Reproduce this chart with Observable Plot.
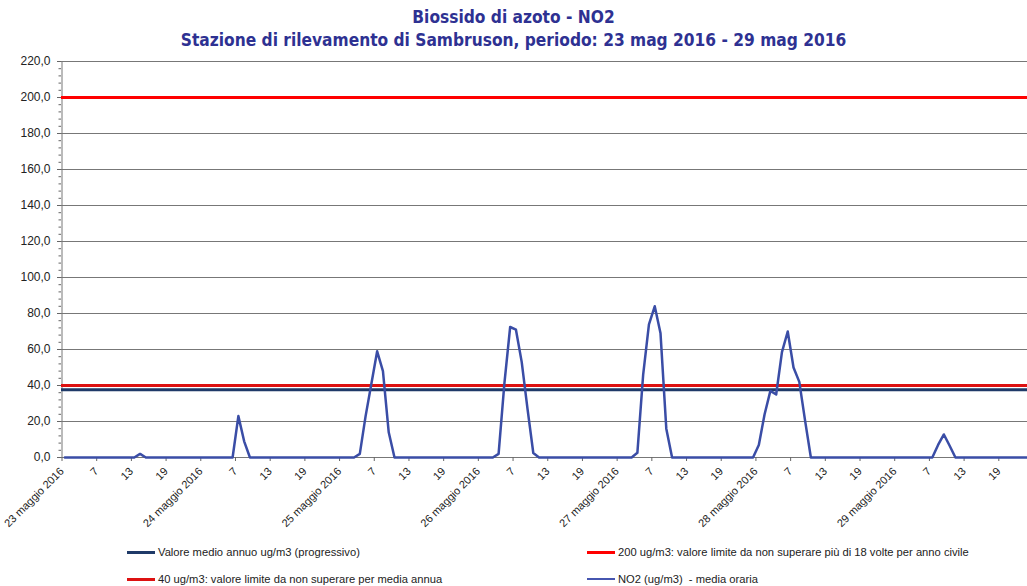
<!DOCTYPE html>
<html>
<head>
<meta charset="utf-8">
<script src="https://cdn.jsdelivr.net/npm/d3@7"></script>
<script src="https://cdn.jsdelivr.net/npm/@observablehq/plot@0.6"></script>
<style>
  html, body { margin: 0; padding: 0; background: #fff; }
  #wrap { position: relative; width: 1027px; height: 586px; overflow: hidden; font-family: "Liberation Sans", Arial, sans-serif; }
  .title { position: absolute; left: 0; width: 1027px; text-align: center; color: #2e3192; font-family: "DejaVu Sans Condensed", "DejaVu Sans", sans-serif; font-weight: bold; font-size: 17.2px; line-height: 20px; white-space: nowrap; }
  #chart { position: absolute; left: 0; top: 48px; }
  .leg { position: absolute; font-size: 11.2px; color: #222; white-space: nowrap; display: flex; align-items: center; }
  .leg .sw { display: inline-block; width: 28px; margin-right: 3px; }
</style>
</head>
<body>
<div id="wrap">
  <div class="title" style="top:7px">Biossido di azoto - NO2</div>
  <div class="title" style="top:30px">Stazione di rilevamento di Sambruson, periodo: 23 mag 2016 - 29 mag 2016</div>
  <div id="chart"></div>
  <div id="legend"></div>
</div>
<script>
// ---- data (hourly NO2, ug/m3, 24 values per day) ----
const days = ["23 maggio 2016","24 maggio 2016","25 maggio 2016","26 maggio 2016","27 maggio 2016","28 maggio 2016","29 maggio 2016"];
const hourLabels = ["7","13","19"];
const no2_23 = [0,0,0,0,0,0,0,0,0,0,0,0,0,2,0,0,0,0,0,0,0,0,0,0];
const no2_24 = [0,0,0,0,0,0,23,9,0,0,0,0,0,0,0,0,0,0,0,0,0,0,0,0];
const no2_25 = [0,0,0,2,23,41,59,48,14,0,0,0,0,0,0,0,0,0,0,0,0,0,0,0];
const no2_26 = [0,0,0,2,41,72.5,71,53,27,2.5,0,0,0,0,0,0,0,0,0,0,0,0,0,0];
const no2_27 = [0,0,0,2.6,46,74,84,69,16,0,0,0,0,0,0,0,0,0,0,0,0,0,0,0];
const no2_28 = [7,24,37,35,58.5,70,50,42,20.5,0,0,0,0,0,0,0,0,0,0,0,0,0,0,0];
const no2_29 = [0,0,0,0,0,0,0,7,12.8,6.5,0,0,0,0,0,0,0,0,0,0,0,0,0,0];
const mediaAnnua = 37.6;
const limite200 = 200;
const limite40 = 40;
const yTicks = [0,20,40,60,80,100,120,140,160,180,200,220];
const xTicks = d3.range(0, 168, 6);

const series = [no2_23,no2_24,no2_25,no2_26,no2_27,no2_28,no2_29].flat();
const data = series.map((v, i) => ({slot: i + 0.5, value: v}));
const xLabel = k => (k % 24 === 0 ? days[k / 24] : hourLabels[(k % 24) / 6 - 1]);

const colNO2 = "#3a4da6", colMean = "#1f3a68", col200 = "#ff0000", col40 = "#dd1111";

const chart = Plot.plot({
  width: 1027,
  height: 490,
  marginLeft: 61,
  marginRight: 0,
  marginTop: 13,
  marginBottom: 81,
  style: {fontFamily: "'Liberation Sans', Arial, sans-serif", color: "#222", background: "transparent"},
  x: {type: "linear", domain: [0, 168], range: [61.5, 1033], label: null},
  y: {domain: [0, 220], label: null},
  marks: [
    Plot.ruleY(yTicks, {stroke: "#777", strokeWidth: 1}),
    Plot.ruleX([0], {stroke: "#777", strokeWidth: 1}),
    Plot.axisY({ticks: d3.range(0, 221, 4), tickSize: 2.5, tickFormat: () => "", stroke: "#666", label: null}),
    Plot.axisY({ticks: yTicks, tickSize: 4, tickPadding: 7, fontSize: 12, stroke: "#666",
      tickFormat: d => d.toFixed(1).replace(".", ","), label: null}),
    Plot.axisX({ticks: xTicks, tickSize: 4, tickFormat: () => "", stroke: "#666", label: null}),
    Plot.text(xTicks, {x: d => d, frameAnchor: "bottom", text: xLabel, rotate: -45,
      textAnchor: "end", lineAnchor: "middle", dy: 12, dx: 0, fontSize: 11, fill: "#222"}),
    Plot.ruleY([limite200], {stroke: col200, strokeWidth: 3}),
    Plot.ruleY([limite40], {stroke: col40, strokeWidth: 3}),
    Plot.ruleY([mediaAnnua], {stroke: colMean, strokeWidth: 3}),
    Plot.line(data, {x: "slot", y: "value", stroke: colNO2, strokeWidth: 2.5})
  ]
});
document.getElementById("chart").append(chart);

// ---- legend ----
const legendItems = [
  {label: "Valore medio annuo ug/m3 (progressivo)", color: colMean, w: 3, left: 127, top: 552},
  {label: "200 ug/m3: valore limite da non superare più di 18 volte per anno civile", color: col200, w: 3, left: 587, top: 552},
  {label: "40 ug/m3: valore limite da non superare per media annua", color: col40, w: 3, left: 127, top: 579},
  {label: "NO2 (ug/m3)  - media oraria", color: "#4656b0", w: 2, left: 587, top: 579}
];
const leg = document.getElementById("legend");
legendItems.forEach(it => {
  const d = document.createElement("div");
  d.className = "leg";
  d.style.left = it.left + "px";
  d.style.top = (it.top - 7) + "px";
  d.style.height = "14px";
  const sw = document.createElement("span");
  sw.className = "sw";
  sw.style.borderTop = it.w + "px solid " + it.color;
  const t = document.createElement("span");
  t.textContent = it.label;
  t.style.whiteSpace = "pre";
  d.append(sw, t);
  leg.append(d);
});
</script>
</body>
</html>
